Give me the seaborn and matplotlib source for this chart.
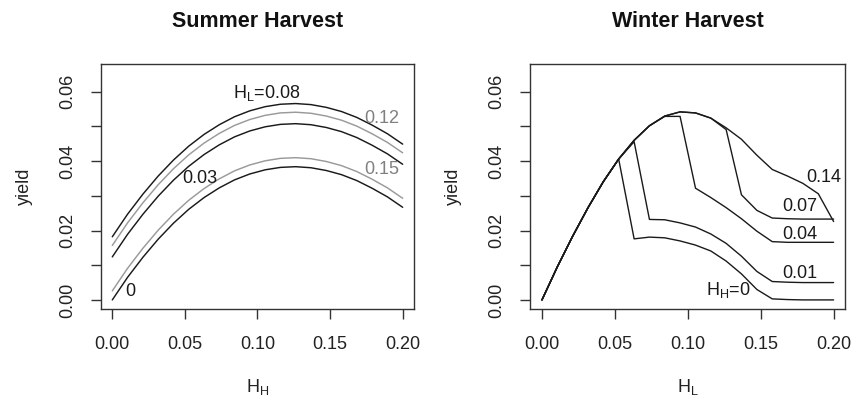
import numpy as np
import pandas as pd
import matplotlib
matplotlib.use("Agg")
import matplotlib.pyplot as plt
import seaborn as sns

# ---- data ----
# common grid (20 points from 0 to 0.2)
h_grid = [0.0, 0.0105, 0.0211, 0.0316, 0.0421, 0.0526, 0.0632, 0.0737, 0.0842, 0.0947,
          0.1053, 0.1158, 0.1263, 0.1368, 0.1474, 0.1579, 0.1684, 0.1789, 0.1895, 0.2]

# Summer harvest: yield vs H_H, one curve per H_L
summer_hl = ["0.08", "0.12", "0.03", "0.15", "0"]
summer_008 = [0.0182, 0.0247, 0.0305, 0.0357, 0.0403, 0.0443, 0.0477, 0.0505, 0.0528, 0.0545,
              0.0557, 0.0564, 0.0566, 0.0563, 0.0555, 0.0543, 0.0526, 0.0504, 0.0479, 0.0449]
summer_012 = [0.0157, 0.0222, 0.0280, 0.0332, 0.0378, 0.0418, 0.0452, 0.0480, 0.0503, 0.0520,
              0.0532, 0.0539, 0.0541, 0.0538, 0.0530, 0.0518, 0.0501, 0.0479, 0.0454, 0.0424]
summer_003 = [0.0124, 0.0189, 0.0247, 0.0299, 0.0345, 0.0385, 0.0419, 0.0447, 0.0470, 0.0487,
              0.0499, 0.0506, 0.0508, 0.0505, 0.0497, 0.0485, 0.0468, 0.0446, 0.0421, 0.0391]
summer_015 = [0.0026, 0.0091, 0.0149, 0.0201, 0.0247, 0.0287, 0.0321, 0.0349, 0.0372, 0.0389,
              0.0401, 0.0408, 0.0410, 0.0407, 0.0399, 0.0387, 0.0370, 0.0348, 0.0323, 0.0293]
summer_000 = [0.0, 0.0065, 0.0123, 0.0175, 0.0221, 0.0261, 0.0295, 0.0323, 0.0346, 0.0363,
              0.0375, 0.0382, 0.0384, 0.0381, 0.0373, 0.0361, 0.0344, 0.0322, 0.0297, 0.0267]

# Winter harvest: yield vs H_L, one curve per H_H
winter_hh = ["0.14", "0.07", "0.04", "0.01", "0"]
winter_014 = [0.0, 0.0095, 0.0184, 0.0266, 0.0341, 0.0406, 0.0460, 0.0502, 0.0530, 0.0542,
              0.0539, 0.0524, 0.0496, 0.0463, 0.0417, 0.0376, 0.0357, 0.0336, 0.0306, 0.0226]
winter_007 = [0.0, 0.0095, 0.0184, 0.0266, 0.0341, 0.0406, 0.0460, 0.0502, 0.0530, 0.0542,
              0.0539, 0.0524, 0.0491, 0.0303, 0.0258, 0.0236, 0.0234, 0.0233, 0.0233, 0.0233]
winter_004 = [0.0, 0.0095, 0.0184, 0.0266, 0.0341, 0.0406, 0.0460, 0.0502, 0.0529, 0.0529,
              0.0322, 0.0295, 0.0266, 0.0234, 0.0198, 0.0168, 0.0166, 0.0166, 0.0166, 0.0166]
winter_001 = [0.0, 0.0095, 0.0184, 0.0266, 0.0341, 0.0406, 0.0456, 0.0232, 0.0231, 0.0222,
              0.0210, 0.0190, 0.0163, 0.0126, 0.0082, 0.0053, 0.0051, 0.0050, 0.0050, 0.0050]
winter_000 = [0.0, 0.0095, 0.0184, 0.0266, 0.0341, 0.0406, 0.0176, 0.0181, 0.0179, 0.0170,
              0.0158, 0.0141, 0.0112, 0.0075, 0.0030, 0.0003, 0.0001, 0.0, 0.0, 0.0]


def long_df(names, series):
    rows = []
    for name, ys in zip(names, series):
        rows.append(pd.DataFrame({"H": h_grid, "yield": ys, "curve": name}))
    return pd.concat(rows, ignore_index=True)


df_summer = long_df(summer_hl, [summer_008, summer_012, summer_003, summer_015, summer_000])
df_winter = long_df(winter_hh, [winter_014, winter_007, winter_004, winter_001, winter_000])

sns.set_theme(style="white")
plt.rcParams["font.family"] = ["Liberation Sans", "DejaVu Sans"]
plt.rcParams["mathtext.fontset"] = "custom"
plt.rcParams["mathtext.rm"] = "Liberation Sans"

dark = "#1a1a1a"
grey = "#9a9a9a"
axis_col = "#333333"

fig = plt.figure(figsize=(8.62, 4.0), dpi=100)
ax1 = fig.add_axes([0.1168, 0.2268, 0.3638, 0.6132])
ax2 = fig.add_axes([0.6152, 0.2268, 0.3654, 0.6132])

summer_pal = {"0.08": dark, "0.12": grey, "0.03": dark, "0.15": grey, "0": dark}
sns.lineplot(data=df_summer, x="H", y="yield", hue="curve", palette=summer_pal,
             estimator=None, sort=False, legend=False, linewidth=1.05, ax=ax1)

winter_pal = {k: dark for k in winter_hh}
sns.lineplot(data=df_winter, x="H", y="yield", hue="curve", palette=winter_pal,
             estimator=None, sort=False, legend=False, linewidth=1.0, ax=ax2)

fs = 13
for ax, title, xl in [(ax1, "Summer Harvest", "H$_\\mathregular{H}$"),
                      (ax2, "Winter Harvest", "H$_\\mathregular{L}$")]:
    ax.set_xlim(-0.008, 0.208)
    ax.set_ylim(-0.0027, 0.068)
    ax.set_xticks([0.0, 0.05, 0.10, 0.15, 0.20])
    ax.set_xticklabels(["0.00", "0.05", "0.10", "0.15", "0.20"])
    ax.set_yticks([0.0, 0.01, 0.02, 0.03, 0.04, 0.05, 0.06])
    ax.set_yticklabels(["0.00", "", "0.02", "", "0.04", "", "0.06"])
    ax.tick_params(axis="both", direction="out", length=7.5, width=1.0, color=axis_col,
                   labelsize=fs, labelcolor="#222222", bottom=True, left=True)
    ax.tick_params(axis="x", pad=11.5)
    ax.tick_params(axis="y", pad=10.4)
    plt.setp(ax.get_yticklabels(), rotation=90, va="center")
    for sp in ax.spines.values():
        sp.set_color(axis_col)
        sp.set_linewidth(1.0)
        sp.set_visible(True)
    ax.set_title(title, fontsize=15.5, fontweight="bold", pad=26.4, color="#111111")
    ax.set_xlabel(xl, fontsize=fs, color="#222222")
    ax.set_ylabel("yield", fontsize=fs, color="#222222")
    ax.xaxis.set_label_coords(0.5, -0.278)

ax1.yaxis.set_label_coords(-0.215, 0.5)
ax2.yaxis.set_label_coords(-0.218, 0.5)

# curve labels
ax1.text(0.1065, 0.0597, "H$_\\mathregular{L}$=0.08", fontsize=fs, ha="center", va="center", color=dark)
ax1.text(0.1855, 0.0524, "0.12", fontsize=fs, ha="center", va="center", color="#808080")
ax1.text(0.060, 0.0351, "0.03", fontsize=fs, ha="center", va="center", color=dark)
ax1.text(0.1855, 0.0375, "0.15", fontsize=fs, ha="center", va="center", color="#808080")
ax1.text(0.0125, 0.0024, "0", fontsize=fs, ha="center", va="center", color=dark)

ax2.text(0.1934, 0.0352, "0.14", fontsize=fs, ha="center", va="center", color=dark)
ax2.text(0.1771, 0.0269, "0.07", fontsize=fs, ha="center", va="center", color=dark)
ax2.text(0.1771, 0.0189, "0.04", fontsize=fs, ha="center", va="center", color=dark)
ax2.text(0.1771, 0.0075, "0.01", fontsize=fs, ha="center", va="center", color=dark)
ax2.text(0.1279, 0.0029, "H$_\\mathregular{H}$=0", fontsize=fs, ha="center", va="center", color=dark)

fig.savefig("out.png", dpi=100, facecolor="white")
